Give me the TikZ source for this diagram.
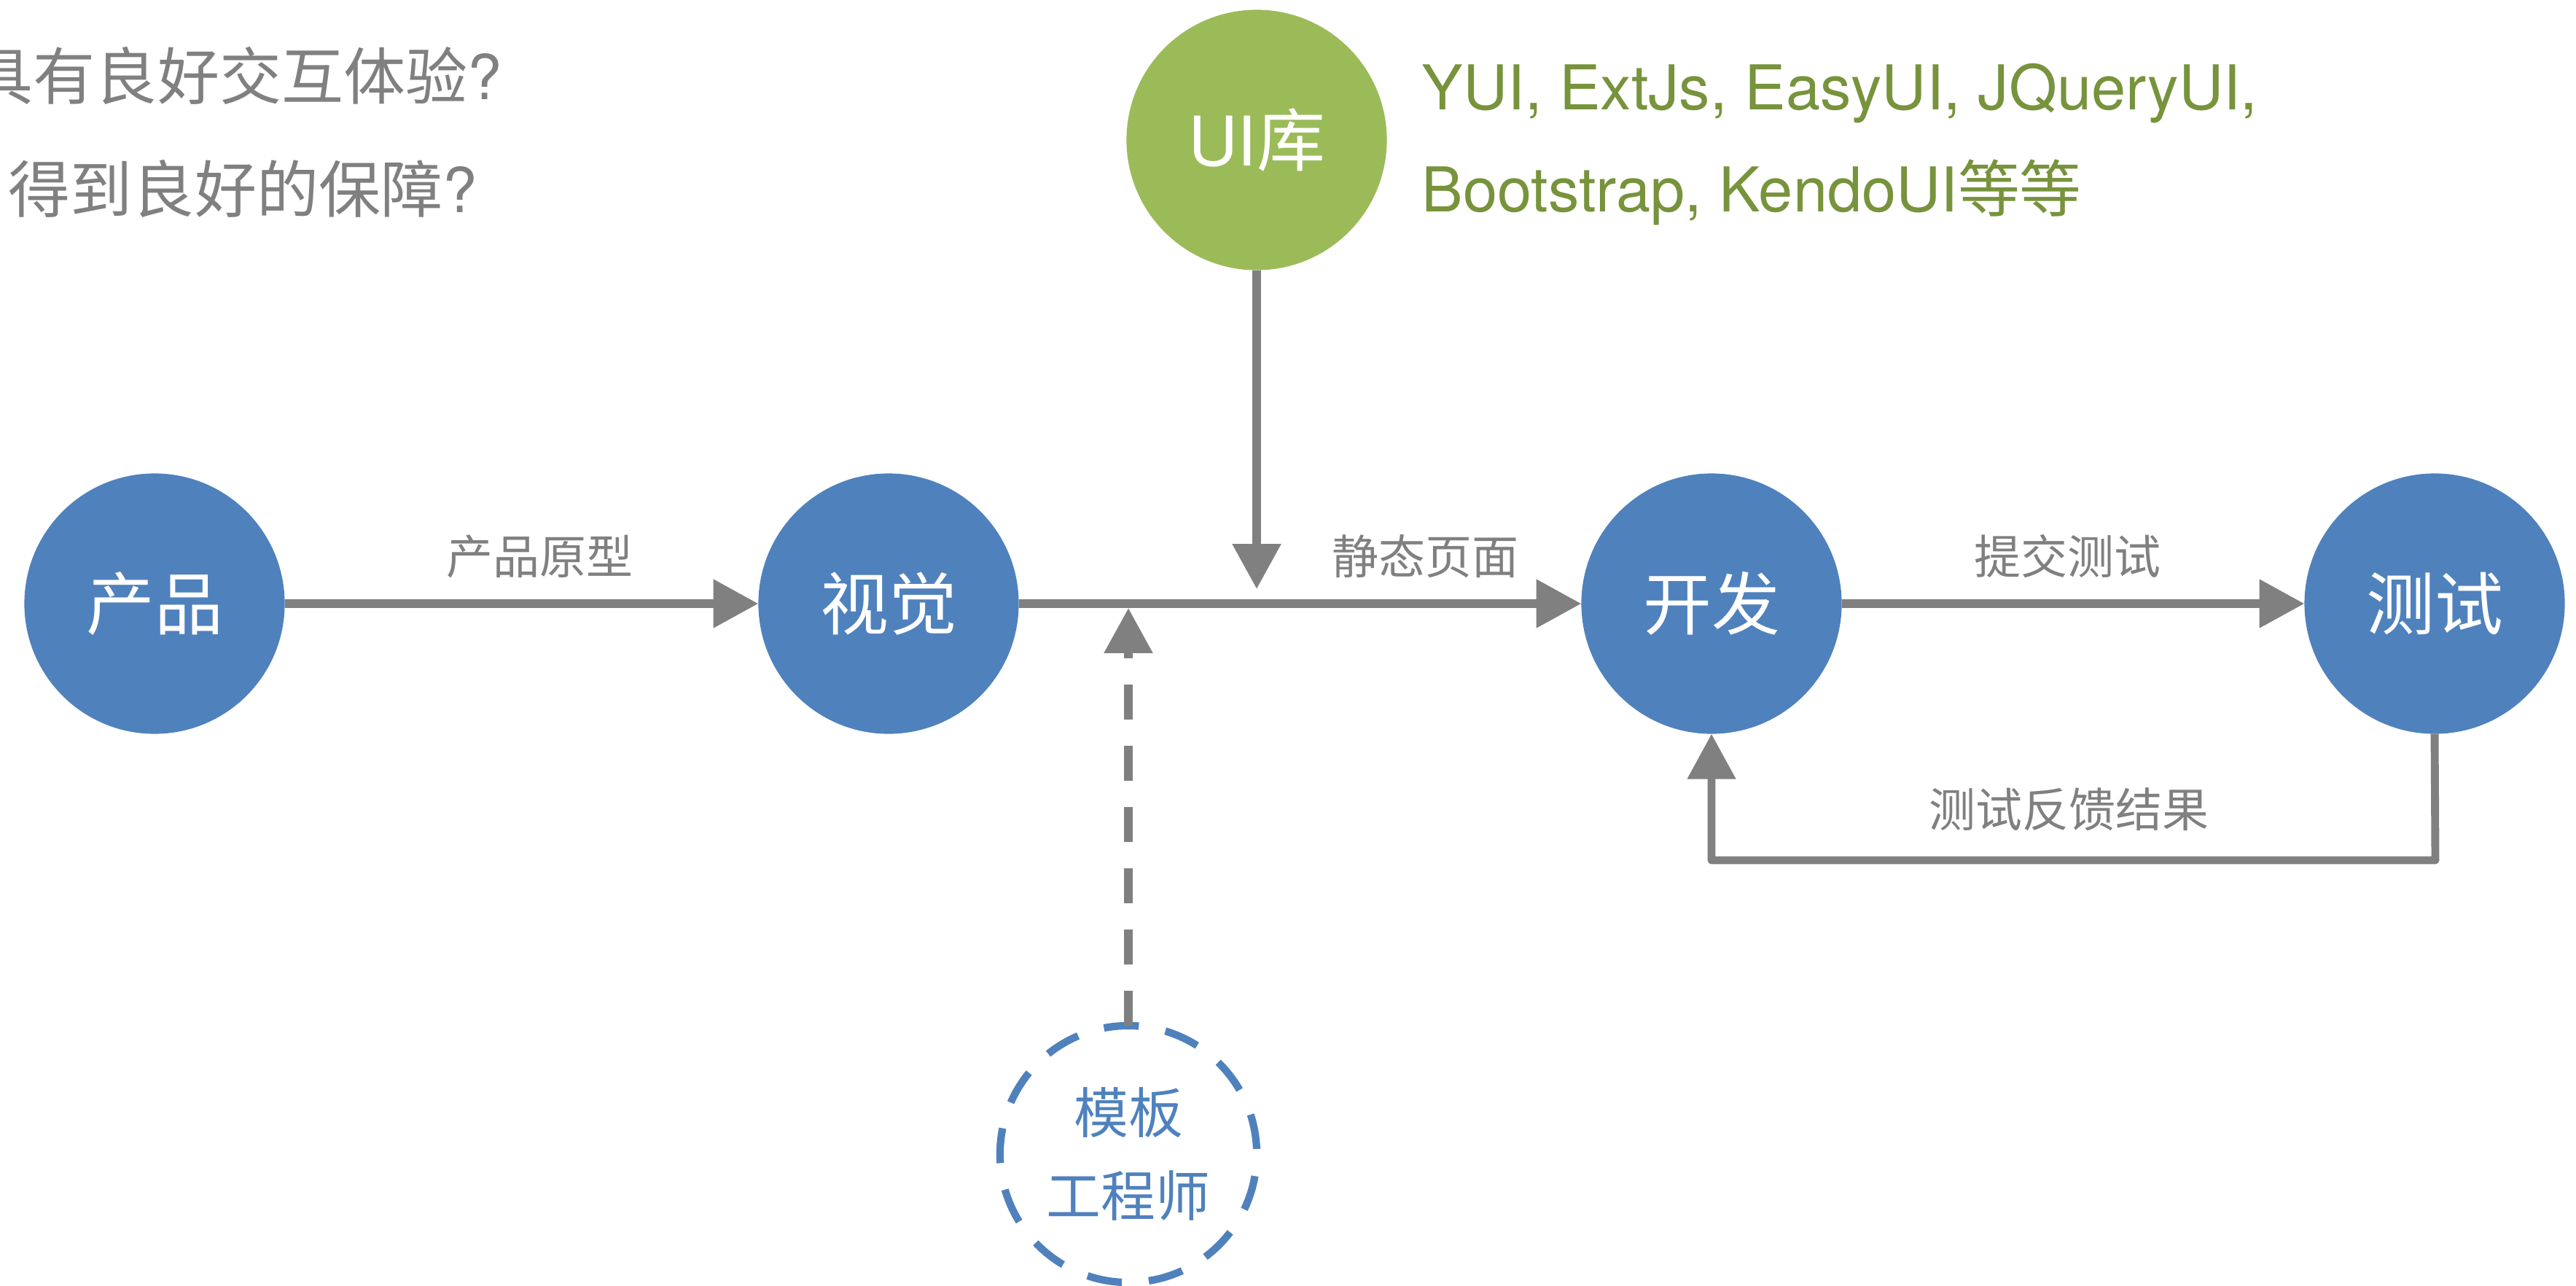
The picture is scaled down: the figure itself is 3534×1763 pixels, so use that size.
\documentclass[tikz,border=0pt]{standalone}
\usepackage{fontspec}
\setmainfont{TeX Gyre Heros}
\newfontfamily\cjk{Noto Sans CJK SC}
\usetikzlibrary{arrows.meta}
\definecolor{nodeblue}{HTML}{4F81BD}
\definecolor{uigreen}{HTML}{9BBB59}
\definecolor{txtgreen}{HTML}{77933C}
\definecolor{linegray}{HTML}{808080}
\tikzset{
  stage/.style={circle, fill=nodeblue, inner sep=0pt, outer sep=0pt, minimum size=3.57cm,
    text=white, font=\cjk\fontsize{26.7pt}{32pt}\selectfont},
  libnode/.style={stage, fill=uigreen, font=\fontsize{26.7pt}{32pt}\selectfont},
  tplnode/.style={circle, draw=nodeblue, line width=2.9pt, inner sep=0pt, outer sep=0pt,
    minimum size=3.52cm, text=nodeblue, align=center,
    dash pattern=on 13.66pt off 10.54pt, dash phase=22.2pt,
    font=\cjk\fontsize{21.3pt}{32.2pt}\selectfont},
  conn/.style={draw=linegray, line width=3.4pt, line join=round,
    -{Triangle[length=17.6pt,width=18.2pt]}},
  fbconn/.style={conn, line width=3.1pt},
  dconn/.style={conn, dash pattern=on 13.66pt off 10.24pt},
  lbl/.style={inner sep=0pt, text=linegray, font=\cjk\fontsize{18.2pt}{22pt}\selectfont},
  qtxt/.style={anchor=base west, inner sep=0pt, text=linegray, font=\fontsize{24.2pt}{29pt}\selectfont},
  libtxt/.style={anchor=base west, inner sep=0pt, text=txtgreen, font=\fontsize{24.1pt}{29pt}\selectfont}
}
\begin{document}
\begin{tikzpicture}[x=0.01cm,y=-0.01cm]
\useasboundingbox (0,0) rectangle (3534,1763);

% questions (cut at left edge)
\node[qtxt] (q1) at (-40,136) {{\cjk 具有良好交互体验}?};
\node[qtxt] (q2) at (11,291) {{\cjk 得到良好的保障}?};

% stages
\node[stage] (prod) at (212,828) {产品};
\node[stage] (vis)  at (1219,828) {视觉};
\node[stage] (dev)  at (2348,828) {开发};
\node[stage] (test) at (3340,828) {测试};
\node[libnode] (ui) at (1724,192) {UI{\cjk 库}};
\node[tplnode] (tpl) at (1548,1583) {模板\\工程师};

% UI library list
\node[libtxt] (libs1) at (1950,150) {YUI, ExtJs, EasyUI, JQueryUI,};
\node[libtxt] (libs2) at (1950,290) {Bootstrap, KendoUI{\cjk 等等}};

% connectors
\coordinate (uitip) at (1724,808);
\coordinate (tpltip) at (1548,834);
\coordinate (fbturn) at (3341,1180);

\draw[conn] (prod) -- (vis);
\draw[conn] (vis) -- (dev);
\draw[conn] (dev) -- (test);
\draw[conn] (ui) -- (uitip);
\draw[dconn] (tpl.north) -- (tpltip);
\draw[fbconn] (test.south) -- (fbturn) -| (dev.south);

% labels
\node[lbl] (l1) at (740,763) {产品原型};
\node[lbl] (l2) at (1955,763) {静态页面};
\node[lbl] (l3) at (2836,763) {提交测试};
\node[lbl] (l4) at (2838,1110) {测试反馈结果};
\end{tikzpicture}
\end{document}
